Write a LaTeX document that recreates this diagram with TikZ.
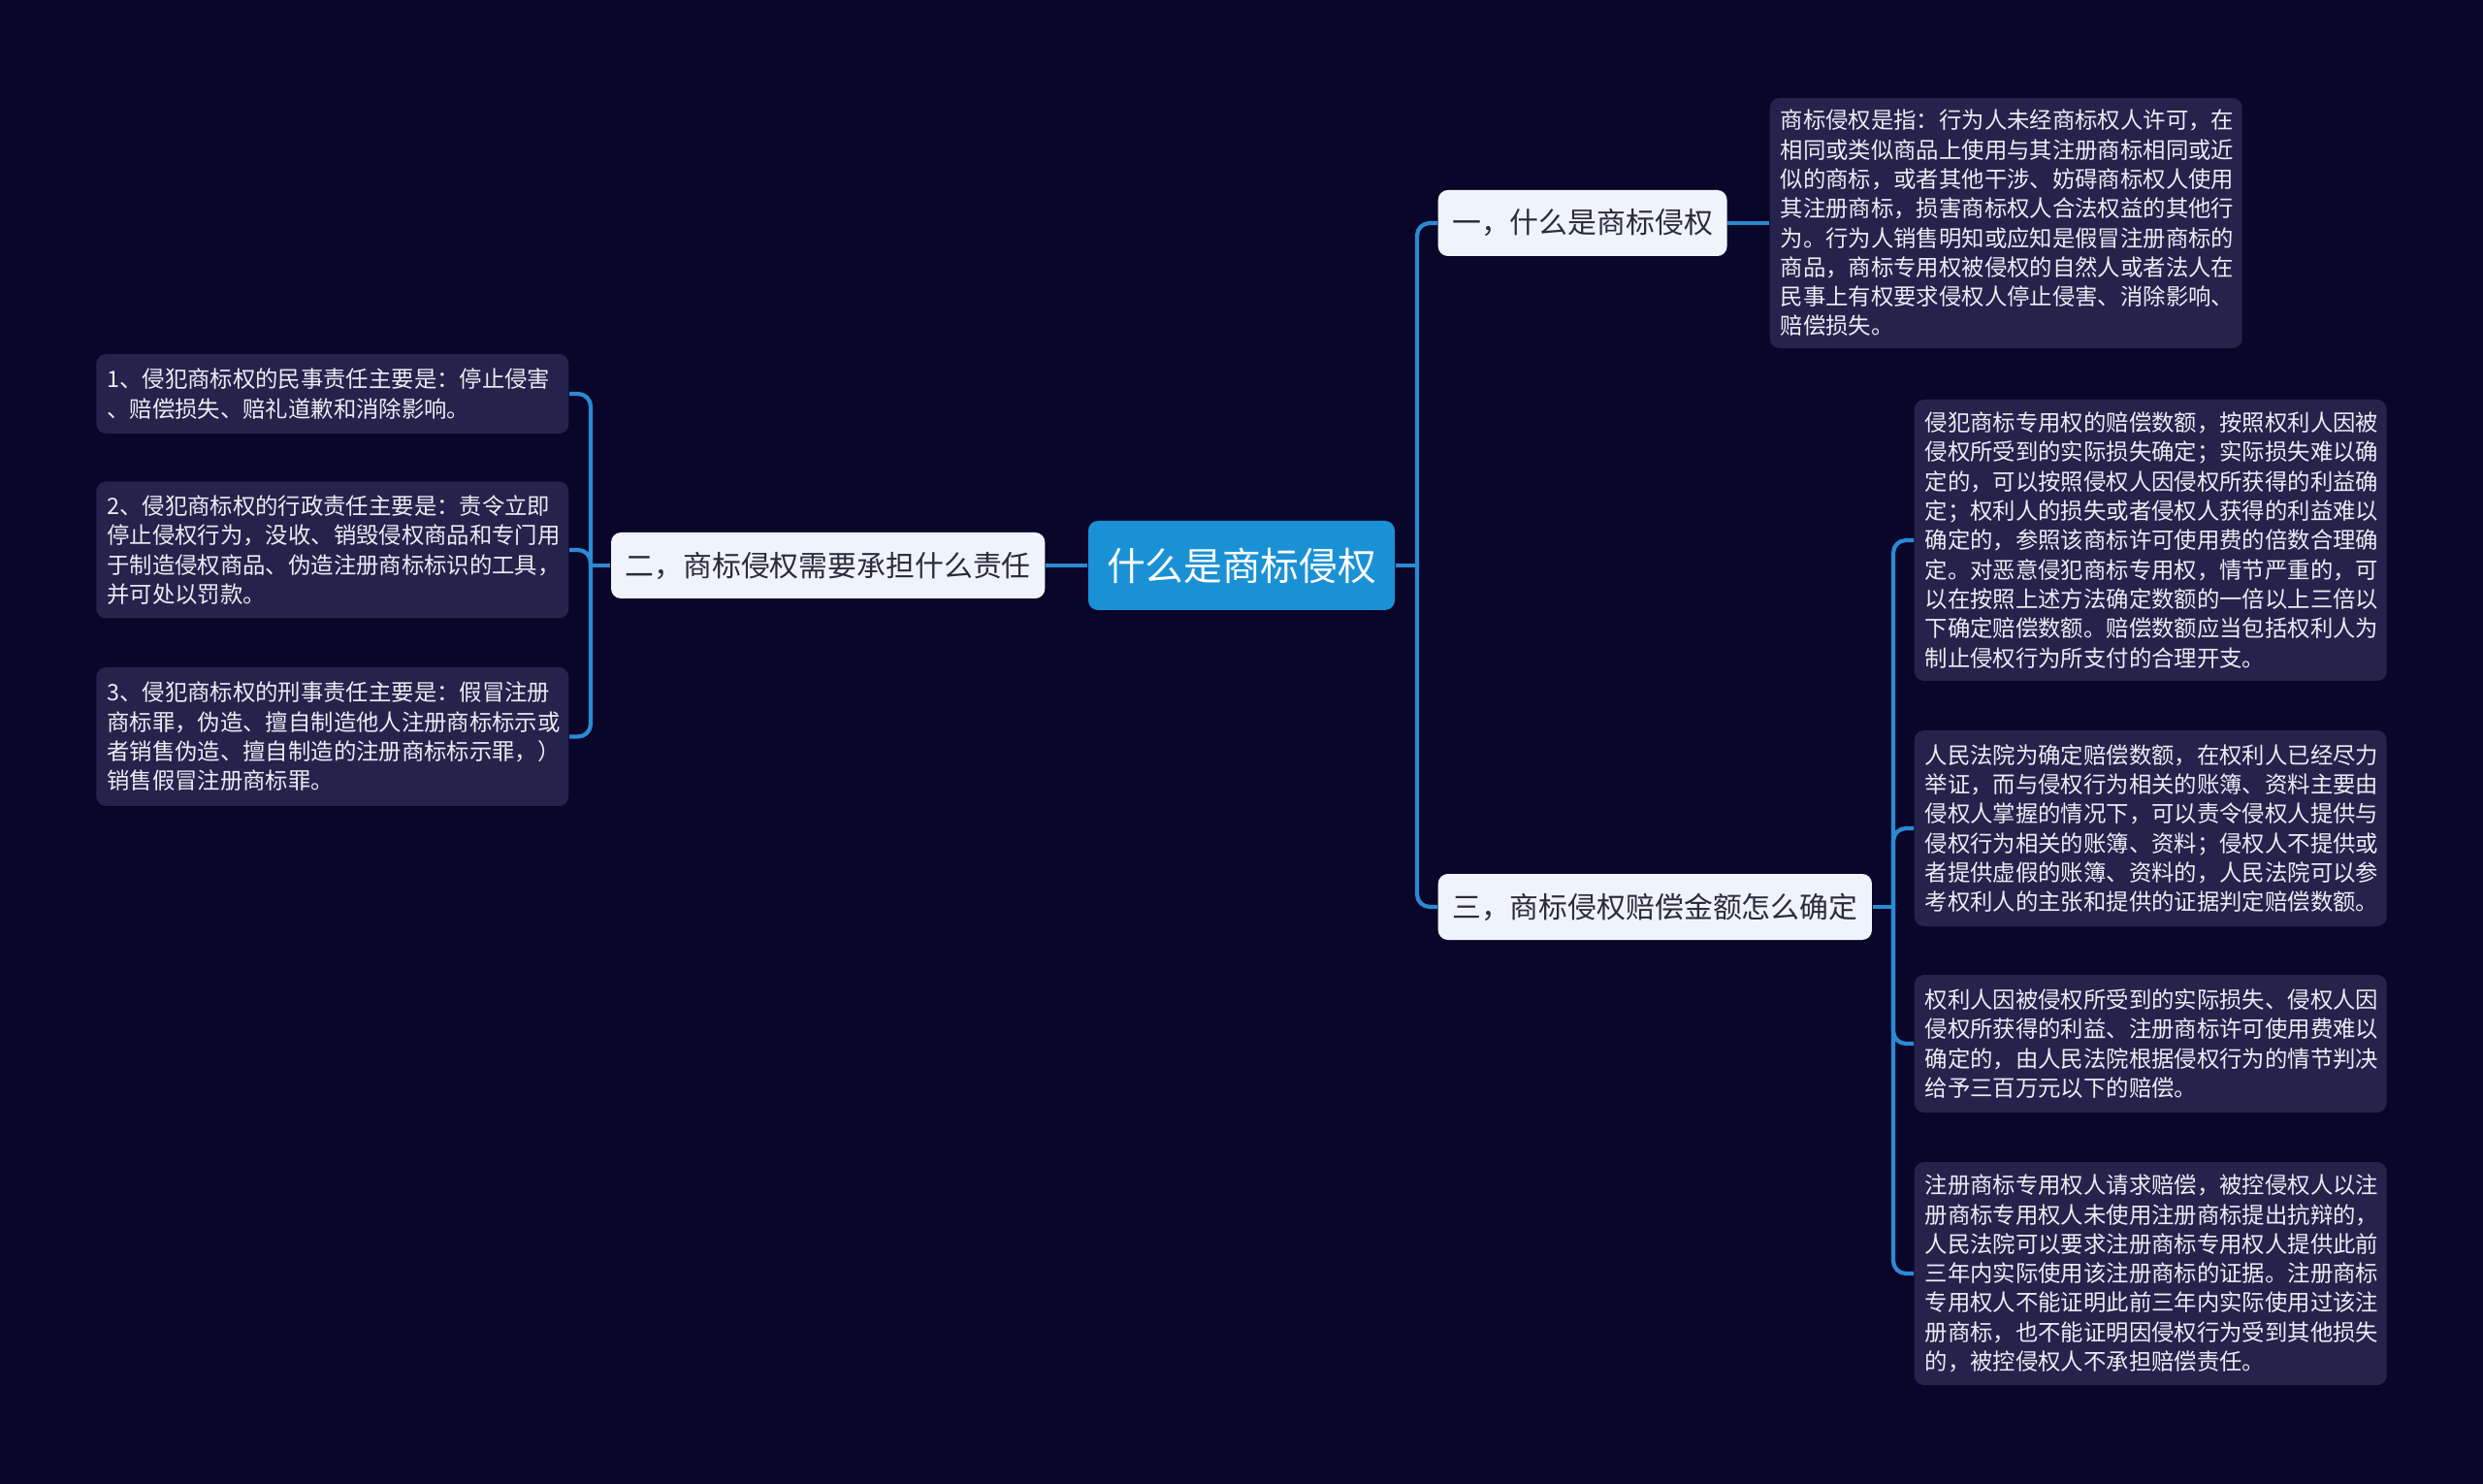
\documentclass[tikz,border=0pt]{standalone}
\usepackage{fontspec}
\setmainfont{Noto Sans CJK SC}
\usepackage{xcolor}
\definecolor{STNavy}{HTML}{0A0629}
\definecolor{STPanel}{HTML}{25224B}
\definecolor{STBlue}{HTML}{1B91D5}
\definecolor{STLine}{HTML}{2A8AD2}
\definecolor{STWhite}{HTML}{EFF4FC}
\definecolor{STInk}{HTML}{2B2B3B}
\definecolor{STText}{HTML}{ECECF4}

\begin{document}
\begin{tikzpicture}[x=1cm,y=1cm,
  rootbox/.style={fill=STBlue,rounded corners=0.1cm,text=white,inner xsep=0.19cm,minimum height=0.92cm,font=\fontsize{11.3}{13}\selectfont},
  topicbox/.style={fill=STWhite,rounded corners=0.1cm,text=STInk,inner xsep=0.145cm,minimum height=0.68cm,font=\fontsize{8.5}{10}\selectfont},
  notebox/.style={fill=STPanel,rounded corners=0.1cm,text=STText,align=left,text width=4.65cm,inner xsep=0.11cm,inner ysep=0.05cm,font=\fontsize{6.65}{8.62}\selectfont},
  link/.style={STLine,line width=1.2pt,rounded corners=0.13cm}]
\path[use as bounding box] (0,0) rectangle (25.60,15.29);
\fill[STNavy] (-0.2,-0.2) rectangle (25.80,15.49);

\node[rootbox] (root) at (12.80,9.46) {什么是商标侵权};
\node[topicbox,anchor=east] (t2) at (10.78,9.46) {二，商标侵权需要承担什么责任};
\node[topicbox,anchor=west] (t1) at (14.82,12.99) {一，什么是商标侵权};
\node[topicbox,anchor=west] (t3) at (14.82,5.94) {三，商标侵权赔偿金额怎么确定};

\node[notebox,anchor=west,minimum height=2.58cm] (d1) at (18.24,12.99) {商标侵权是指：行为人未经商标权人许可，在\\
相同或类似商品上使用与其注册商标相同或近\\
似的商标，或者其他干涉、妨碍商标权人使用\\
其注册商标，损害商标权人合法权益的其他行\\
为。行为人销售明知或应知是假冒注册商标的\\
商品，商标专用权被侵权的自然人或者法人在\\
民事上有权要求侵权人停止侵害、消除影响、\\
赔偿损失。};

\node[notebox,anchor=west,minimum height=2.90cm] (r1) at (19.73,9.72) {侵犯商标专用权的赔偿数额，按照权利人因被\\
侵权所受到的实际损失确定；实际损失难以确\\
定的，可以按照侵权人因侵权所获得的利益确\\
定；权利人的损失或者侵权人获得的利益难以\\
确定的，参照该商标许可使用费的倍数合理确\\
定。对恶意侵犯商标专用权，情节严重的，可\\
以在按照上述方法确定数额的一倍以上三倍以\\
下确定赔偿数额。赔偿数额应当包括权利人为\\
制止侵权行为所支付的合理开支。};
\node[notebox,anchor=west,minimum height=2.02cm] (r2) at (19.73,6.75) {人民法院为确定赔偿数额，在权利人已经尽力\\
举证，而与侵权行为相关的账簿、资料主要由\\
侵权人掌握的情况下，可以责令侵权人提供与\\
侵权行为相关的账簿、资料；侵权人不提供或\\
者提供虚假的账簿、资料的，人民法院可以参\\
考权利人的主张和提供的证据判定赔偿数额。};
\node[notebox,anchor=west,minimum height=1.42cm] (r3) at (19.73,4.53) {权利人因被侵权所受到的实际损失、侵权人因\\
侵权所获得的利益、注册商标许可使用费难以\\
确定的，由人民法院根据侵权行为的情节判决\\
给予三百万元以下的赔偿。};
\node[notebox,anchor=west,minimum height=2.30cm] (r4) at (19.73,2.16) {注册商标专用权人请求赔偿，被控侵权人以注\\
册商标专用权人未使用注册商标提出抗辩的，\\
人民法院可以要求注册商标专用权人提供此前\\
三年内实际使用该注册商标的证据。注册商标\\
专用权人不能证明此前三年内实际使用过该注\\
册商标，也不能证明因侵权行为受到其他损失\\
的，被控侵权人不承担赔偿责任。};

\node[notebox,anchor=east,minimum height=0.82cm] (l1) at (5.87,11.23) {1、侵犯商标权的民事责任主要是：停止侵害\\
、赔偿损失、赔礼道歉和消除影响。};
\node[notebox,anchor=east,minimum height=1.41cm] (l2) at (5.87,9.62) {2、侵犯商标权的行政责任主要是：责令立即\\
停止侵权行为，没收、销毁侵权商品和专门用\\
于制造侵权商品、伪造注册商标标识的工具，\\
并可处以罚款。};
\node[notebox,anchor=east,minimum height=1.43cm] (l3) at (5.87,7.695) {3、侵犯商标权的刑事责任主要是：假冒注册\\
商标罪，伪造、擅自制造他人注册商标标示或\\
者销售伪造、擅自制造的注册商标标示罪，）\\
销售假冒注册商标罪。};

\coordinate (lbus) at (6.09,9.46);
\coordinate (rbus) at (14.61,9.46);
\coordinate (nbus) at (19.52,5.94);

\draw[link] (root.west) -- (t2.east);
\draw[link] (t2.west) -- (lbus);
\draw[link] (lbus) |- (l1.east);
\draw[link] (lbus) |- (l2.east);
\draw[link] (lbus) |- (l3.east);
\draw[link] (root.east) -- (rbus);
\draw[link] (rbus) |- (t1.west);
\draw[link] (rbus) |- (t3.west);
\draw[link] (t1.east) -- (d1.west);
\draw[link] (t3.east) -- (nbus);
\draw[link] (nbus) |- (r1.west);
\draw[link] (nbus) |- (r2.west);
\draw[link] (nbus) |- (r3.west);
\draw[link] (nbus) |- (r4.west);
\end{tikzpicture}
\end{document}
